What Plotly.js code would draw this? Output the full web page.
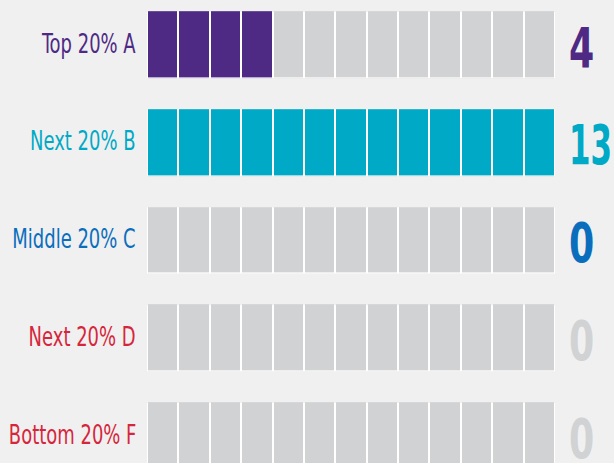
<!DOCTYPE html>
<html>
<head>
<meta charset="utf-8">
<script src="https://cdn.plot.ly/plotly-3.0.1.min.js"></script>
<style>
  html, body { margin: 0; padding: 0; background: #f0f0f0; }
  #chart { width: 614px; height: 463px; }
</style>
</head>
<body>
<div id="chart"></div>
<script>
// ---- data ----
const categories = ['Top 20% A', 'Next 20% B', 'Middle 20% C', 'Next 20% D', 'Bottom 20% F'];
const counts = [4, 13, 0, 0, 0];
const totalCells = 13;
const rowColors = ['#4e2a84', '#00a9c6', '#0a6ebd', '#d6263b', '#d6263b'];
const numberColors = ['#4e2a84', '#00a9c6', '#0a6ebd', '#d1d2d4', '#d1d2d4'];
const emptyColor = '#d1d2d4';

// ---- derived ----
const rowIdx = categories.map((_, i) => i);
const colEdges = Array.from({length: totalCells + 1}, (_, j) => j);
const z = counts.map((c, i) => Array.from({length: totalCells}, (_, j) => (j < c ? i + 1 : 0)));

const palette = [emptyColor].concat(rowColors);
const nC = palette.length;
const colorscale = [];
palette.forEach((col, k) => {
  colorscale.push([k / nC, col]);
  colorscale.push([(k + 1) / nC, col]);
});

const W = 614, H = 463;
const mL = 147, mR = 59;
const plotW = W - mL - mR;
const rowPitch = 97.75, cellH = 66, firstCenter = 45;
const yTop = -firstCenter / rowPitch;
const yBot = yTop + H / rowPitch;

const fontFam = '"Liberation Sans Narrow", "DejaVu Sans Condensed", sans-serif';

const traces = [
  {
    type: 'bar', orientation: 'h',
    y: rowIdx, x: categories.map(() => totalCells), base: 0,
    width: cellH / rowPitch,
    marker: {color: '#ffffff', line: {width: 0}},
    hoverinfo: 'skip', showlegend: false,
    xaxis: 'x', yaxis: 'y'
  },
  {
    type: 'heatmap',
    x: colEdges, y: rowIdx, z: z,
    zmin: -0.5, zmax: nC - 0.5,
    colorscale: colorscale, showscale: false,
    xgap: 2, ygap: rowPitch - cellH,
    hoverinfo: 'skip',
    xaxis: 'x2', yaxis: 'y2'
  }
];

const annotations = [];
categories.forEach((cat, i) => {
  annotations.push({
    xref: 'paper', yref: 'y', x: -9 / plotW, y: i,
    xanchor: 'right', yanchor: 'middle', showarrow: false,
    text: cat, yshift: 2,
    font: {family: fontFam, size: 27, color: rowColors[i]}
  });
  annotations.push({
    xref: 'paper', yref: 'y', x: (567 - mL) / plotW, y: i,
    xanchor: 'left', yanchor: 'middle', showarrow: false,
    text: String(counts[i]), yshift: -2,
    font: {family: fontFam, size: 56, weight: 700, color: numberColors[i]}
  });
});

const hiddenAxis = {showgrid: false, zeroline: false, showticklabels: false, ticks: '', showline: false, fixedrange: true};

const layout = {
  width: W, height: H,
  margin: {l: mL, r: mR, t: 0, b: 0, pad: 0},
  paper_bgcolor: '#f0f0f0', plot_bgcolor: '#f0f0f0',
  barmode: 'overlay',
  showlegend: false,
  xaxis: Object.assign({}, hiddenAxis, {range: [0, totalCells]}),
  yaxis: Object.assign({}, hiddenAxis, {range: [yBot, yTop]}),
  xaxis2: Object.assign({}, hiddenAxis, {range: [0, totalCells], overlaying: 'x'}),
  yaxis2: Object.assign({}, hiddenAxis, {range: [yBot, yTop], overlaying: 'y'}),
  annotations: annotations
};

// condense the text horizontally (the original uses a narrow typeface)
function condense() {
  document.querySelectorAll('#chart g.annotation').forEach(g => {
    const idx = +g.getAttribute('data-index');
    const t = g.querySelector('text.annotation-text');
    if (!t) return;
    const isLabel = idx % 2 === 0;
    let s = isLabel ? 0.74 : 0.72;
    if (!isLabel) {
      const w = t.getBBox().width;
      if (w > 0) s = Math.min(s, 43 / w);
    }
    t.style.transformBox = 'fill-box';
    t.style.transformOrigin = isLabel ? 'right center' : 'left center';
    t.style.transform = 'scaleX(' + s + ')';
  });
}

Plotly.newPlot('chart', traces, layout, {displayModeBar: false, staticPlot: true}).then(condense);
</script>
</body>
</html>
